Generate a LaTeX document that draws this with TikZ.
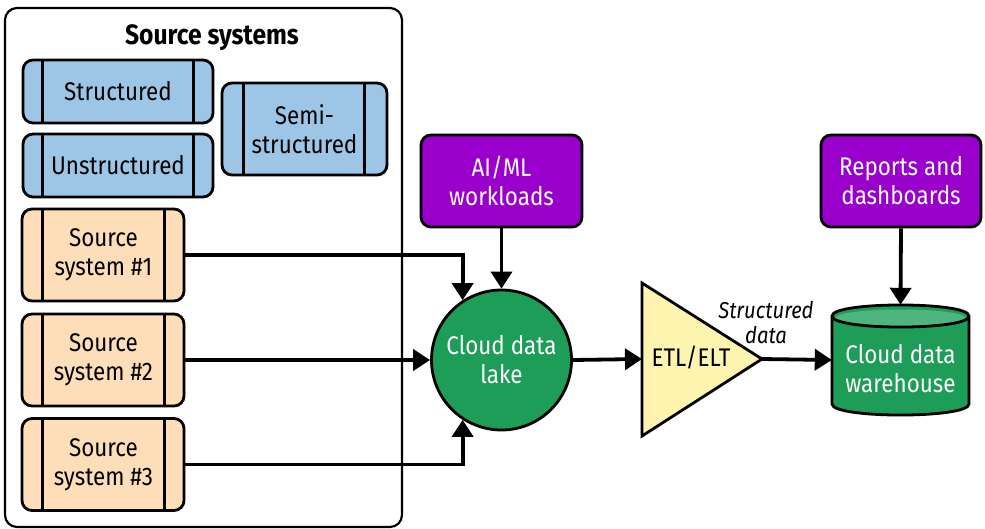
\documentclass[tikz,border=0pt]{standalone}
\usepackage{fontspec}
\setmainfont{Fira Sans}[FakeStretch=0.88]
\usetikzlibrary{arrows.meta,calc}
\definecolor{cblue}{HTML}{9DC6E6}
\definecolor{cpeach}{HTML}{FDDEB9}
\definecolor{cpurple}{HTML}{9900CC}
\definecolor{cgreen}{HTML}{1D9D58}
\definecolor{cgreenlt}{HTML}{4DB57D}
\definecolor{cyellow}{HTML}{FDF4B0}
\begin{document}
\begin{tikzpicture}[x=1pt,y=-1pt,
  lbl/.style={font=\fontsize{25.5}{29}\selectfont, align=center, inner sep=0pt},
  procbox/.style={draw, line width=2.8pt, rounded corners=10pt, minimum width=#1, inner sep=0pt},
  bluebox/.style={procbox=190pt, fill=cblue, minimum height=63pt},
  peachbox/.style={procbox=162pt, fill=cpeach, minimum height=92pt},
  purplebox/.style={procbox=161pt, fill=cpurple, minimum height=92pt, text=white},
  conn/.style={line width=3.8pt, -{Triangle[length=17pt,width=21pt]}}
]
\useasboundingbox (0,0) rectangle (985,528);
% outer box
\draw[line width=2.2pt, rounded corners=12pt] (5,8) rectangle (402,527);
\node[lbl, font=\fontsize{28}{30}\selectfont\bfseries] (title) at (212,38) {Source systems};
% blue boxes
\node[bluebox] (st) at (118,91.5) {};
\node[bluebox] (un) at (118,165.5) {};
\node[procbox=165pt, fill=cblue, minimum height=92pt] (semi) at (304.5,129) {};
\foreach \n/\a/\b in {st/21/21, un/21/21, semi/23/24}{
  \draw[line width=2.8pt] ([xshift=\a pt]\n.north west) -- ([xshift=\a pt]\n.south west);
  \draw[line width=2.8pt] ([xshift=-\b pt]\n.north east) -- ([xshift=-\b pt]\n.south east);
}
\node[lbl] at (st.center) {Structured};
\node[lbl] at (un.center) {Unstructured};
\node[lbl] at (semi.center) {Semi-\\structured};
% source systems
\node[peachbox] (s1) at (103,255) {};
\node[peachbox] (s2) at (103,360) {};
\node[peachbox] (s3) at (103,464.5) {};
\foreach \n/\k in {s1/1, s2/2, s3/3}{
  \draw[line width=2.8pt] ([xshift=22pt]\n.north west) -- ([xshift=22pt]\n.south west);
  \draw[line width=2.8pt] ([xshift=-21pt]\n.north east) -- ([xshift=-21pt]\n.south east);
  \node[lbl] at ([xshift=0.5pt]\n.center) {Source\\system \#\k};
}
% purple boxes
\node[purplebox, lbl] (aiml) at (501.5,181) {AI/ML\\workloads};
\node[purplebox, lbl, minimum width=160pt] (rep) at (901,181) {Reports and\\dashboards};
% lake
\node[circle, draw, line width=2.8pt, fill=cgreen, minimum size=140pt, inner sep=0pt] (lake) at (501.5,360) {};
\node[lbl, text=white] at (lake.center) {Cloud data\\lake};
% ETL triangle
\coordinate (etlL) at (642,359);
\coordinate (etlR) at (762,359);
\draw[line width=2.8pt, fill=cyellow, line join=miter] (642,283) -- (etlR) -- (642,436) -- cycle;
\node[lbl] (etl) at (691,358) {ETL/ELT};
% cylinder
\node[minimum width=137pt, minimum height=110pt, inner sep=0pt] (cdw) at (900.5,360) {};
\draw[line width=2.8pt, fill=cgreen] (832,316) -- (832,404) .. controls (832,418.7) and (969,418.7) .. (969,404) -- (969,316) .. controls (969,301.3) and (832,301.3) .. (832,316) -- cycle;
\fill[cgreenlt] (835,318.5) .. controls (835,306.5) and (966,306.5) .. (966,318.5) .. controls (966,330.5) and (835,330.5) .. (835,318.5) -- cycle;
\draw[line width=2.8pt] (832,316) .. controls (832,330.7) and (969,330.7) .. (969,316);
\node[lbl, text=white] at (900.5,369) {Cloud data\\warehouse};
% label
\node[lbl, font=\fontsize{23}{25}\itshape] (sd) at (766,323) {Structured\\data};
% connectors
\draw[conn] (s1.east) -| (lake.123);
\draw[conn] (s2.east) -- (lake.west);
\draw[conn] (s3.east) -| (lake.237);
\draw[conn] (aiml.south) -- (lake.north);
\draw[conn] (lake.east) -- (etlL);
\draw[conn] (etlR) -- (cdw.west);
\draw[conn] (rep.south) -- (cdw.north);
\end{tikzpicture}
\end{document}
